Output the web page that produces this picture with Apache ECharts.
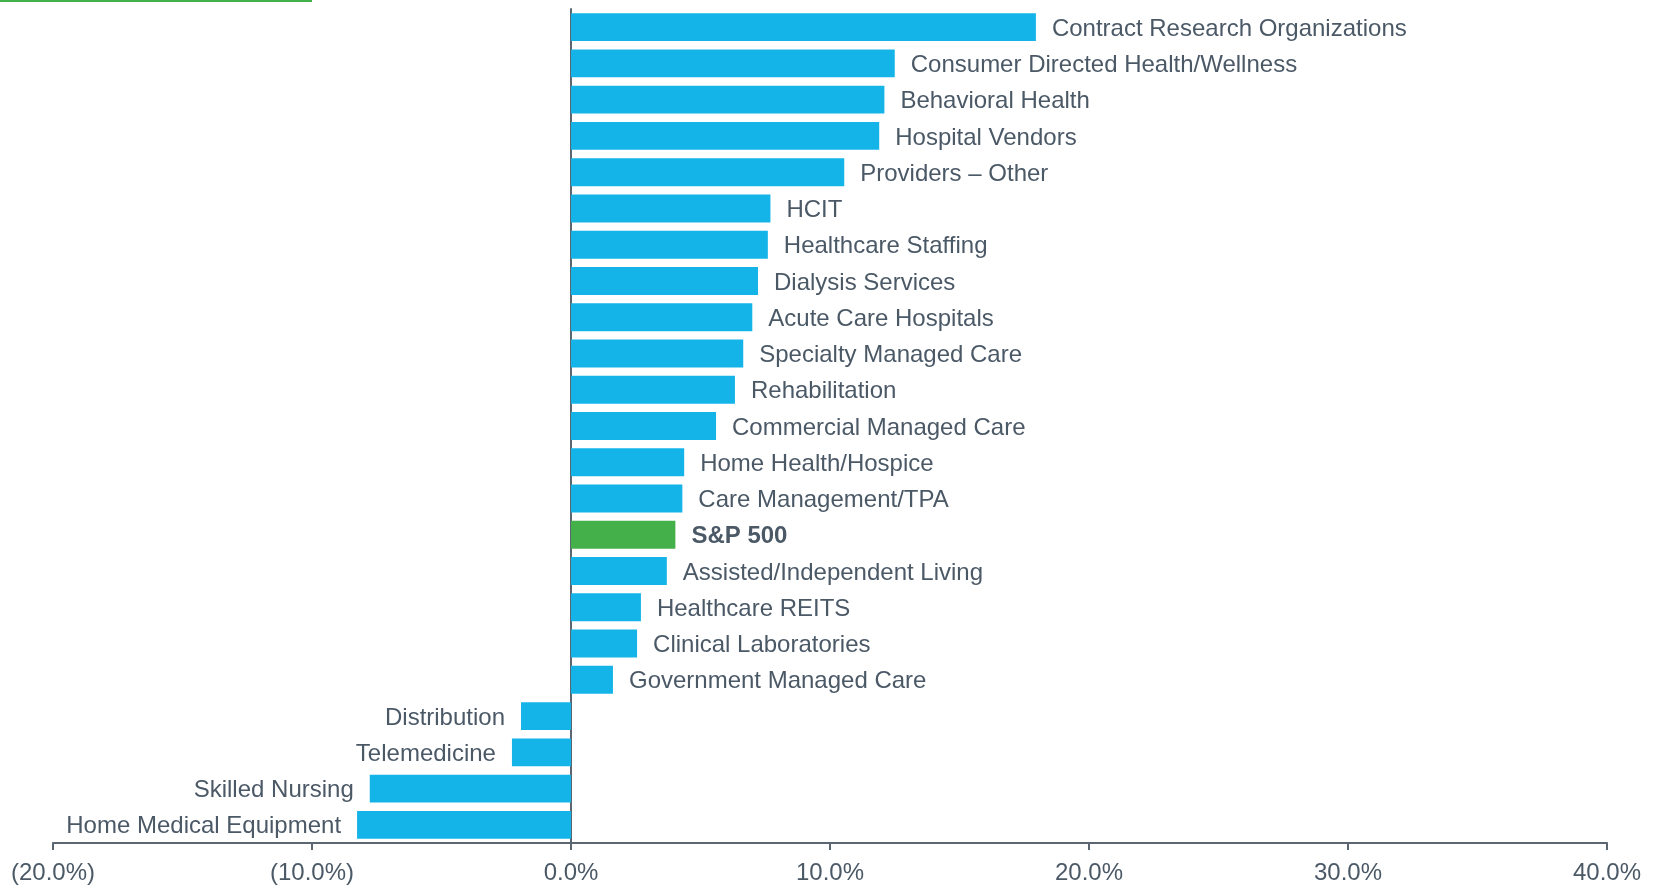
<!DOCTYPE html>
<html>
<head>
<meta charset="utf-8">
<title>Healthcare sub-sector returns vs S&amp;P 500</title>
<script src="https://cdn.jsdelivr.net/npm/echarts@6/dist/echarts.min.js"></script>
<style>
  html, body { margin: 0; padding: 0; background: #fff; }
  #chart { width: 1657px; height: 886px; }
</style>
</head>
<body>
<div id="chart"></div>
<script>
// Sub-sector returns, top to bottom as drawn
const categories = [
  'Contract Research Organizations',
  'Consumer Directed Health/Wellness',
  'Behavioral Health',
  'Hospital Vendors',
  'Providers – Other',
  'HCIT',
  'Healthcare Staffing',
  'Dialysis Services',
  'Acute Care Hospitals',
  'Specialty Managed Care',
  'Rehabilitation',
  'Commercial Managed Care',
  'Home Health/Hospice',
  'Care Management/TPA',
  'S&P 500',
  'Assisted/Independent Living',
  'Healthcare REITS',
  'Clinical Laboratories',
  'Government Managed Care',
  'Distribution',
  'Telemedicine',
  'Skilled Nursing',
  'Home Medical Equipment'
];
const returns = [
  17.95, 12.5, 12.1, 11.9, 10.55, 7.7, 7.6, 7.22, 7.0, 6.65, 6.33, 5.6,
  4.37, 4.3, 4.03, 3.7, 2.7, 2.55, 1.62, -1.93, -2.28, -7.77, -8.26
];
const benchmark = 'S&P 500';
const tickLabels = ['(20.0%)', '(10.0%)', '0.0%', '10.0%', '20.0%', '30.0%', '40.0%'];
const axisMin = -20, axisMax = 40, axisStep = 10;

const BLUE = '#14b4e8';
const GREEN = '#44b04a';
const TEXT = '#4b5967';
const AXIS = '#5b6670';
const FONT = '"Liberation Sans", Arial, Helvetica, sans-serif';

const chart = echarts.init(document.getElementById('chart'));

const barData = categories.map((name, i) => {
  const v = returns[i];
  const isBench = name === benchmark;
  return {
    value: v,
    itemStyle: { color: isBench ? GREEN : BLUE },
    label: {
      position: v >= 0 ? 'right' : 'left',
      fontWeight: isBench ? 'bold' : 'normal'
    }
  };
});

chart.setOption({
  animation: false,
  backgroundColor: '#fff',
  grid: { left: 53, right: 50, top: 9, bottom: 43, containLabel: false },
  graphic: [{
    type: 'line',
    shape: { x1: 0, y1: 1, x2: 312, y2: 1 },
    style: { stroke: GREEN, lineWidth: 2 }
  }],
  xAxis: {
    type: 'value',
    min: axisMin,
    max: axisMax,
    interval: axisStep,
    splitLine: { show: false },
    axisLine: { show: true, lineStyle: { color: AXIS, width: 2 } },
    axisTick: { show: true, length: 7, lineStyle: { color: AXIS, width: 2 } },
    axisLabel: {
      margin: 18,
      color: TEXT,
      fontFamily: FONT,
      fontSize: 24,
      formatter: v => tickLabels[Math.round((v - axisMin) / axisStep)] || ''
    }
  },
  yAxis: {
    type: 'category',
    data: categories,
    inverse: true,
    axisLine: { show: true, onZero: true, lineStyle: { color: AXIS, width: 2 } },
    axisTick: { show: false },
    axisLabel: { show: false },
    splitLine: { show: false }
  },
  series: [{
    type: 'bar',
    data: barData,
    barCategoryGap: '23%',
    label: {
      show: true,
      distance: 16,
      offset: [0, 2],
      color: TEXT,
      fontFamily: FONT,
      fontSize: 24,
      formatter: p => p.name
    }
  }]
});
</script>
</body>
</html>
